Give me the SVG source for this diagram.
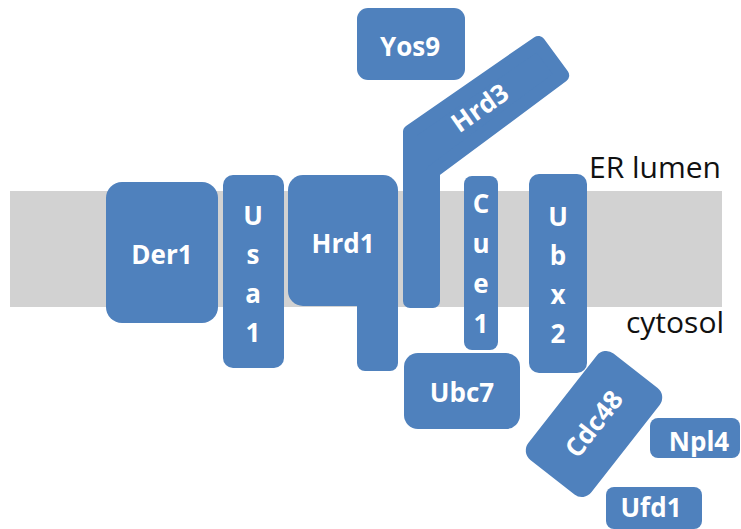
<svg xmlns="http://www.w3.org/2000/svg" width="741" height="529" viewBox="0 0 741 529">
  <style>
    .prot { fill: #4f81bd; }
    .lbl { font-family: "Open Sans", "Liberation Sans", sans-serif; font-weight: bold; font-size: 26px; fill: #ffffff; text-anchor: middle; }
    .side { font-family: "Open Sans", "Liberation Sans", sans-serif; font-size: 30px; fill: #111111; text-anchor: middle; }
  </style>
  <rect width="741" height="529" fill="#ffffff"/>

  <!-- ER membrane -->
  <rect id="membrane" x="10" y="191" width="712" height="116" fill="#d2d2d2"/>
  <text class="side" x="655" y="178">ER lumen</text>
  <text class="side" x="675" y="333">cytosol</text>

  <!-- no connectors in this figure -->
  <g id="connectors"/>

  <g id="Der1">
    <rect class="prot" x="106" y="182" width="112" height="141" rx="16"/>
    <text class="lbl" x="162" y="264">Der1</text>
  </g>

  <g id="Usa1">
    <rect class="prot" x="223" y="175" width="61" height="193" rx="10"/>
    <text class="lbl" x="253" y="225">U</text>
    <text class="lbl" x="253" y="264">s</text>
    <text class="lbl" x="253" y="303">a</text>
    <text class="lbl" x="253" y="342">1</text>
  </g>

  <g id="Hrd1">
    <rect class="prot" x="288" y="175" width="110" height="131" rx="15"/>
    <rect class="prot" x="357" y="250" width="41" height="121" rx="8"/>
    <text class="lbl" x="343" y="253">Hrd1</text>
  </g>

  <g id="Yos9">
    <rect class="prot" x="357" y="8" width="108" height="72" rx="11"/>
    <text class="lbl" x="410" y="56">Yos9</text>
  </g>

  <g id="Hrd3">
    <polygon class="prot" stroke="#4f81bd" stroke-width="14" stroke-linejoin="round"
             points="410,301 410,131.7 538.3,42.9 562.2,75.5 433,171.5 433,301"/>
    <text class="lbl" transform="translate(480,108) rotate(-35)" x="0" y="9">Hrd3</text>
  </g>

  <g id="Cue1">
    <rect class="prot" x="464" y="176" width="34" height="174" rx="8"/>
    <text class="lbl" x="481" y="213">C</text>
    <text class="lbl" x="481" y="253">u</text>
    <text class="lbl" x="481" y="293">e</text>
    <text class="lbl" x="481" y="333">1</text>
  </g>

  <g id="Ubx2">
    <rect class="prot" x="529" y="174" width="58" height="199" rx="10"/>
    <text class="lbl" x="558" y="226">U</text>
    <text class="lbl" x="558" y="265">b</text>
    <text class="lbl" x="558" y="304">x</text>
    <text class="lbl" x="558" y="343">2</text>
  </g>

  <g id="Ubc7">
    <rect class="prot" x="404" y="353" width="116" height="76" rx="14"/>
    <text class="lbl" x="462" y="402">Ubc7</text>
  </g>

  <g id="Npl4">
    <rect class="prot" x="650" y="418" width="90" height="40" rx="8"/>
    <text class="lbl" x="699" y="451">Npl4</text>
  </g>

  <g id="Ufd1">
    <rect class="prot" x="606" y="487" width="96" height="42" rx="8"/>
    <text class="lbl" x="651" y="517">Ufd1</text>
  </g>

  <g id="Cdc48" transform="translate(594,424) rotate(-52)">
    <rect class="prot" x="-67.5" y="-40" width="135" height="80" rx="12"/>
    <text class="lbl" x="0" y="9">Cdc48</text>
  </g>
</svg>
